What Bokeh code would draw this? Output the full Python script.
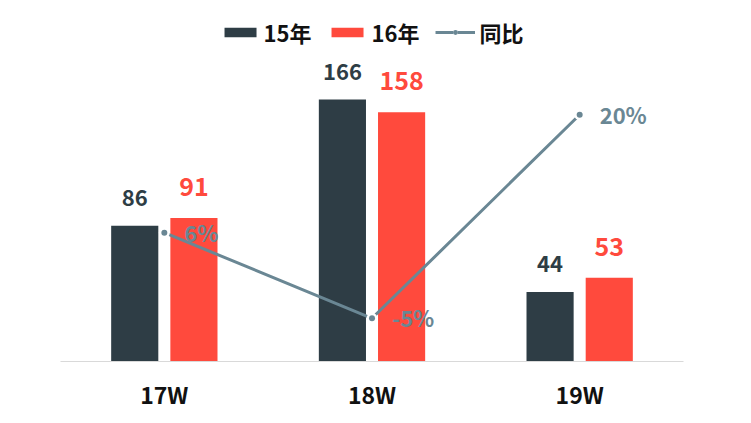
from bokeh.plotting import figure
from bokeh.models import ColumnDataSource, Range1d, Legend, LegendItem, LabelSet, FactorRange
from bokeh.core.properties import value
from bokeh.transform import dodge
from bokeh.embed import file_html
from bokeh.resources import INLINE

categories = ["17W", "18W", "19W"]
y15 = [86, 166, 44]
y16 = [91, 158, 53]
yoy = [5.8, -4.8, 20.4]
yoy_labels = ["6%", "-5%", "20%"]

C15 = "#2e3d45"
C16 = "#ff4a3d"
CL = "#6a8794"
FONT = "Noto Sans CJK SC"

src = ColumnDataSource(dict(cat=categories, y15=y15, y16=y16, yoy=yoy,
                            l15=[str(v) for v in y15], l16=[str(v) for v in y16],
                            lyoy=yoy_labels))

p = figure(x_range=FactorRange(*categories), y_range=Range1d(0, 222.4),
           frame_width=623, frame_height=351, output_backend="svg", toolbar_location=None,
           min_border_left=60, min_border_right=52, min_border_top=10, min_border_bottom=50)
p.extra_y_ranges = {"pct": Range1d(-10.15, 33.3)}
p.outline_line_color = None
p.grid.visible = False
p.yaxis.visible = False
p.background_fill_color = "white"

b15 = p.vbar(x=dodge("cat", -0.1425, range=p.x_range), top="y15", width=0.227,
             source=src, fill_color=C15, line_color=None)
b16 = p.vbar(x=dodge("cat", 0.1425, range=p.x_range), top="y16", width=0.227,
             source=src, fill_color=C16, line_color=None)

ln = p.line(x="cat", y="yoy", source=src, y_range_name="pct", line_color=CL, line_width=3)
wc = p.scatter(x="cat", y="yoy", source=src, y_range_name="pct", size=11,
               fill_color="white", line_color=None)
dt = p.scatter(x="cat", y="yoy", source=src, y_range_name="pct", size=6,
               fill_color=CL, line_color=None)

p.add_layout(LabelSet(x=dodge("cat", -0.1425, range=p.x_range), y="y15", text="l15", source=src,
                      text_align="center", text_baseline="alphabetic", y_offset=20,
                      text_font=value(FONT), text_font_style="bold", text_font_size="22px",
                      text_color=C15))
p.add_layout(LabelSet(x=dodge("cat", 0.1425, range=p.x_range), y="y16", text="l16", source=src,
                      text_align="center", text_baseline="alphabetic", y_offset=22,
                      text_font=value(FONT), text_font_style="bold", text_font_size="25px",
                      text_color=C16))
p.add_layout(LabelSet(x="cat", y="yoy", text="lyoy", source=src, y_range_name="pct",
                      text_align="left", text_baseline="middle", x_offset=20, y_offset=1,
                      text_font=value(FONT), text_font_style="bold", text_font_size="22px",
                      text_color=CL))

xa = p.xaxis[0]
xa.axis_line_color = "#d9d9d9"
xa.axis_line_width = 1
xa.major_tick_line_color = None
xa.minor_tick_line_color = None
xa.major_label_standoff = 9
xa.major_label_text_font = FONT
xa.major_label_text_font_style = "bold"
xa.major_label_text_font_size = "23px"
xa.major_label_text_color = "#111111"

legend = Legend(items=[LegendItem(label="15年", renderers=[b15]),
                       LegendItem(label="16年", renderers=[b16]),
                       LegendItem(label="同比", renderers=[ln, wc, dt])],
                location="top_center", orientation="horizontal",
                glyph_width=40, glyph_height=12, label_standoff=4, spacing=16,
                label_text_font=FONT, label_text_font_style="bold",
                label_text_font_size="22px", label_text_color="#111111",
                border_line_color=None, background_fill_alpha=0,
                margin=6, padding=4)
p.add_layout(legend)

open("out.html", "w").write(file_html(p, INLINE))
